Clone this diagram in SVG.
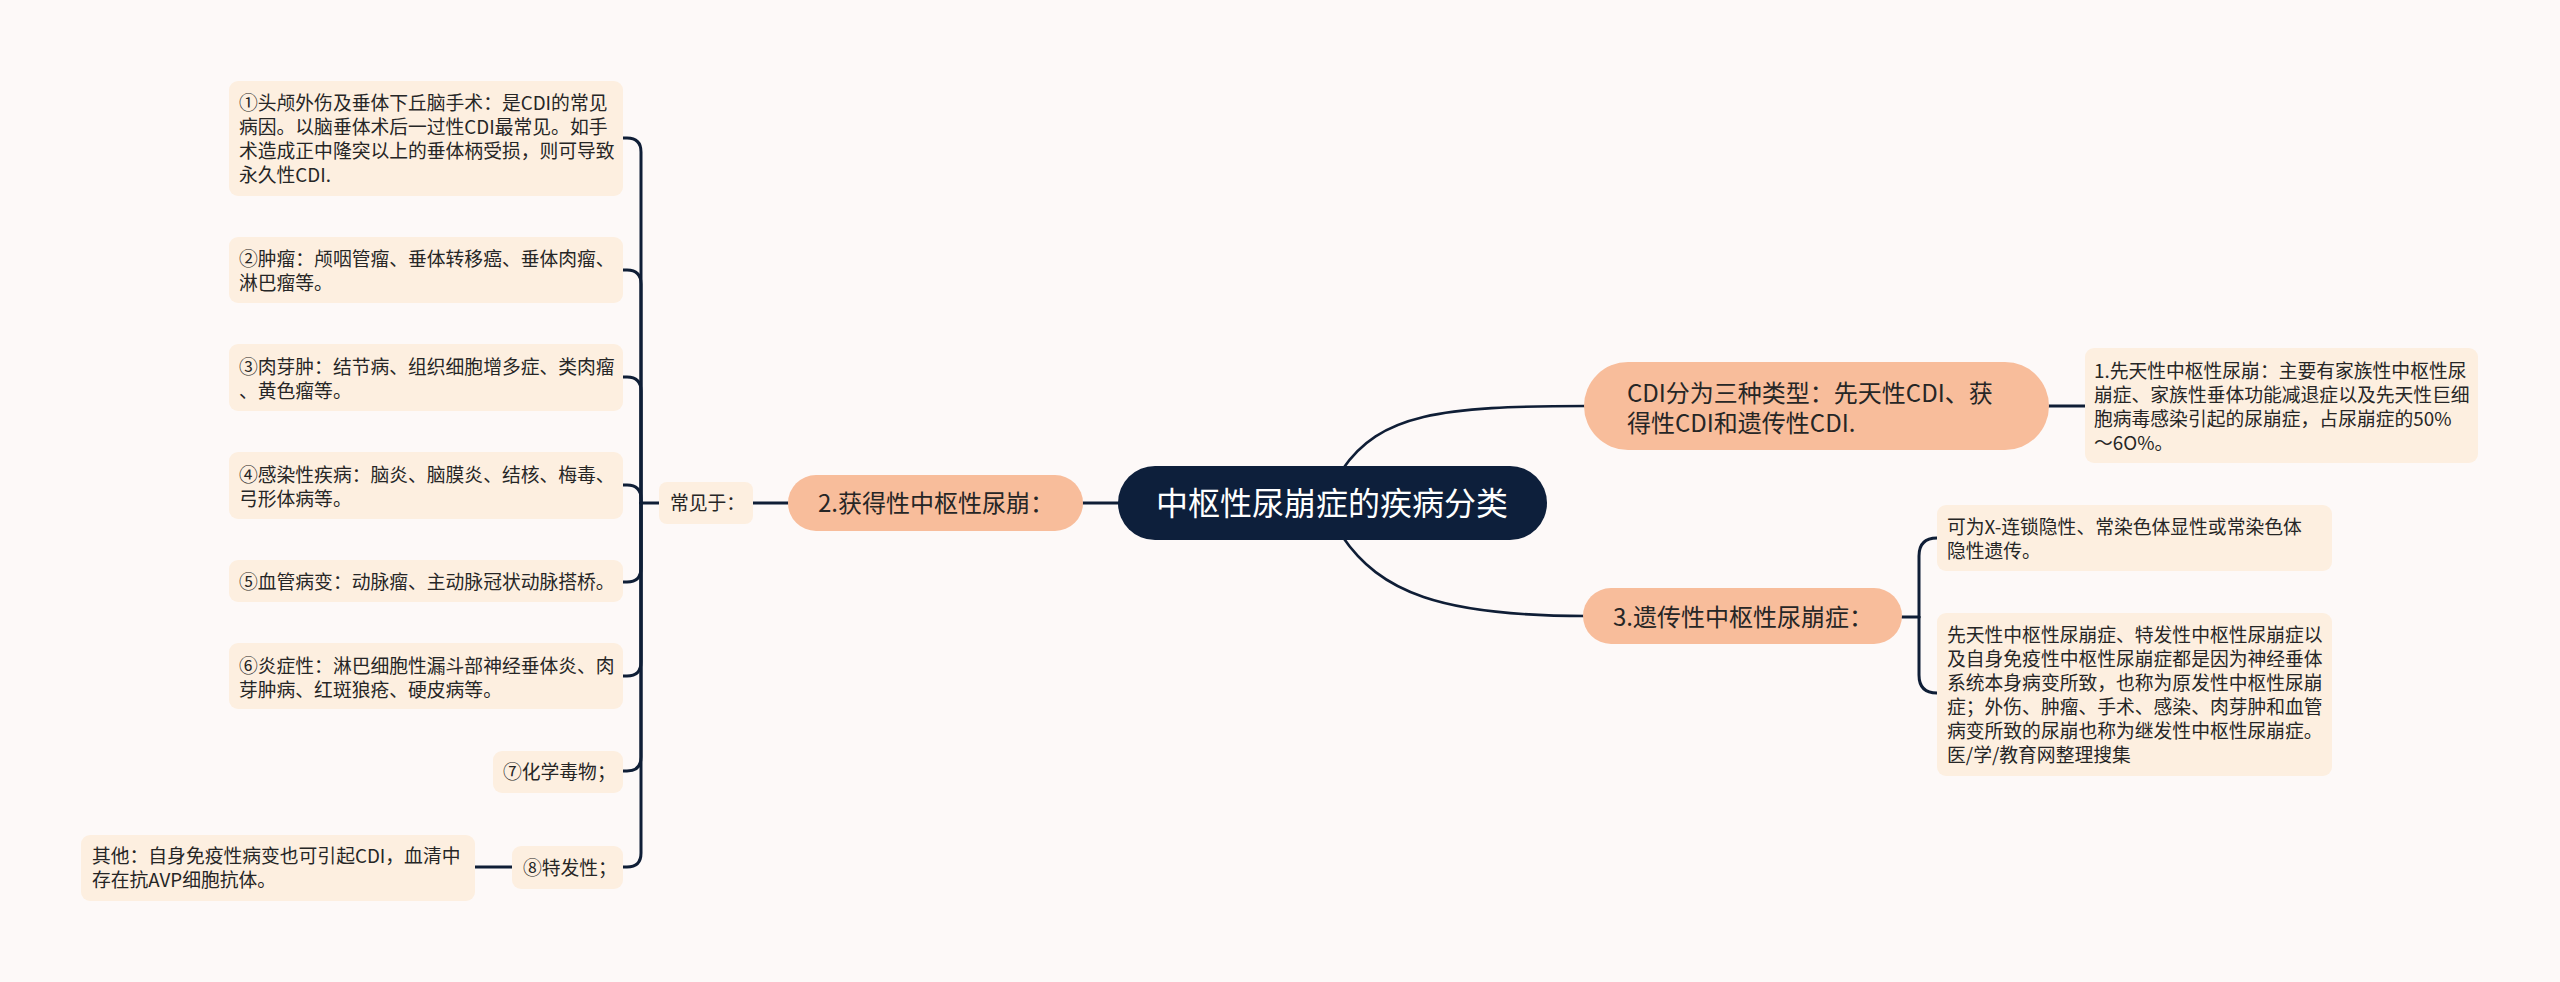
<svg xmlns="http://www.w3.org/2000/svg" width="2560" height="982" viewBox="0 0 2560 982">
<style>
text{font-family:"Noto Sans CJK SC","Noto Sans",sans-serif;fill:#262626}
.leaf{fill:#fdefe0}
.main{fill:#f8bd9b}
.t19{font-size:18.8px}
.t24{font-size:24px}
.t32{font-size:32px;fill:#ffffff}
.ln{fill:none;stroke:#0f1e36;stroke-width:3;stroke-linecap:round}
.cv{fill:none;stroke:#0f1e36;stroke-width:2.6}
</style>
<rect width="2560" height="982" fill="#fdf9f8"/>
<g id="connectors">
<path class="ln" d="M1083 503 H1120"/>
<path class="cv" d="M1342 470 C1380 414 1440 406 1586 406"/>
<path class="cv" d="M1342 536 C1380 592 1440 616 1586 616"/>
<path class="ln" d="M2049 406 H2085"/>
<path class="ln" d="M1902 617 H1919"/>
<path class="ln" d="M1919 617 V556 Q1919 538 1937 538"/>
<path class="ln" d="M1919 617 V675 Q1919 693 1937 693"/>
<path class="ln" d="M753 503 H788"/>
<path class="ln" d="M659 503 H641"/>
<path class="ln" d="M641 503 V152 Q641 138 627 138 H623"/>
<path class="ln" d="M641 503 V284 Q641 270 627 270 H623"/>
<path class="ln" d="M641 503 V391 Q641 377 627 377 H623"/>
<path class="ln" d="M641 503 V499 Q641 485 627 485 H623"/>
<path class="ln" d="M641 503 V568 Q641 582 627 582 H623"/>
<path class="ln" d="M641 503 V662 Q641 676 627 676 H623"/>
<path class="ln" d="M641 503 V757 Q641 771 627 771 H623"/>
<path class="ln" d="M641 503 V853 Q641 867 627 867 H623"/>
<path class="ln" d="M475 867 H512"/>
</g>
<g id="root">
<rect x="1118" y="466" width="429" height="74" rx="37" fill="#0d1f3b"/>
<text class="t32" x="1332" y="515" text-anchor="middle">中枢性尿崩症的疾病分类</text>
</g>
<g id="n-types">
<rect class="main" x="1584" y="362" width="465" height="88" rx="44"/>
<text class="t24" x="1627" y="402">CDI分为三种类型：先天性CDI、获</text>
<text class="t24" x="1627" y="432">得性CDI和遗传性CDI.</text>
</g>
<g id="n-congenital">
<rect class="leaf" x="2085" y="348" width="393" height="115" rx="9"/>
<text class="t19" x="2094" y="378">1.先天性中枢性尿崩：主要有家族性中枢性尿</text>
<text class="t19" x="2094" y="402">崩症、家族性垂体功能减退症以及先天性巨细</text>
<text class="t19" x="2094" y="426">胞病毒感染引起的尿崩症，占尿崩症的50%</text>
<text class="t19" x="2094" y="450">～6O%。</text>
</g>
<g id="n-hereditary">
<rect class="main" x="1583" y="588" width="319" height="56" rx="28"/>
<text class="t24" x="1613" y="626">3.遗传性中枢性尿崩症：</text>
</g>
<g id="n-h1">
<rect class="leaf" x="1937" y="505" width="395" height="66" rx="9"/>
<text class="t19" x="1947" y="534">可为X-连锁隐性、常染色体显性或常染色体</text>
<text class="t19" x="1947" y="558">隐性遗传。</text>
</g>
<g id="n-h2">
<rect class="leaf" x="1937" y="613" width="395" height="163" rx="9"/>
<text class="t19" x="1947" y="642">先天性中枢性尿崩症、特发性中枢性尿崩症以</text>
<text class="t19" x="1947" y="666">及自身免疫性中枢性尿崩症都是因为神经垂体</text>
<text class="t19" x="1947" y="690">系统本身病变所致，也称为原发性中枢性尿崩</text>
<text class="t19" x="1947" y="714">症；外伤、肿瘤、手术、感染、肉芽肿和血管</text>
<text class="t19" x="1947" y="738">病变所致的尿崩也称为继发性中枢性尿崩症。</text>
<text class="t19" x="1947" y="762">医/学/教育网整理搜集</text>
</g>
<g id="n-acquired">
<rect class="main" x="788" y="475" width="295" height="56" rx="28"/>
<text class="t24" x="818" y="512">2.获得性中枢性尿崩：</text>
</g>
<g id="n-common">
<rect class="leaf" x="659" y="482" width="94" height="42" rx="8"/>
<text class="t19" x="670" y="510">常见于：</text>
</g>
<g id="n-c1">
<rect class="leaf" x="229" y="81" width="394" height="115" rx="9"/>
<text class="t19" x="239" y="110">①头颅外伤及垂体下丘脑手术：是CDI的常见</text>
<text class="t19" x="239" y="134">病因。以脑垂体术后一过性CDI最常见。如手</text>
<text class="t19" x="239" y="158">术造成正中隆突以上的垂体柄受损，则可导致</text>
<text class="t19" x="239" y="182">永久性CDI.</text>
</g>
<g id="n-c2">
<rect class="leaf" x="229" y="237" width="394" height="66" rx="9"/>
<text class="t19" x="239" y="266">②肿瘤：颅咽管瘤、垂体转移癌、垂体肉瘤、</text>
<text class="t19" x="239" y="290">淋巴瘤等。</text>
</g>
<g id="n-c3">
<rect class="leaf" x="229" y="344" width="394" height="67" rx="9"/>
<text class="t19" x="239" y="374">③肉芽肿：结节病、组织细胞增多症、类肉瘤</text>
<text class="t19" x="239" y="398">、黄色瘤等。</text>
</g>
<g id="n-c4">
<rect class="leaf" x="229" y="452" width="394" height="67" rx="9"/>
<text class="t19" x="239" y="482">④感染性疾病：脑炎、脑膜炎、结核、梅毒、</text>
<text class="t19" x="239" y="506">弓形体病等。</text>
</g>
<g id="n-c5">
<rect class="leaf" x="229" y="560" width="394" height="42" rx="9"/>
<text class="t19" x="239" y="589">⑤血管病变：动脉瘤、主动脉冠状动脉搭桥。</text>
</g>
<g id="n-c6">
<rect class="leaf" x="229" y="643" width="394" height="66" rx="9"/>
<text class="t19" x="239" y="673">⑥炎症性：淋巴细胞性漏斗部神经垂体炎、肉</text>
<text class="t19" x="239" y="697">芽肿病、红斑狼疮、硬皮病等。</text>
</g>
<g id="n-c7">
<rect class="leaf" x="493" y="751" width="130" height="42" rx="9"/>
<text class="t19" x="503" y="779">⑦化学毒物；</text>
</g>
<g id="n-c8">
<rect class="leaf" x="512" y="846" width="111" height="43" rx="9"/>
<text class="t19" x="523" y="875">⑧特发性；</text>
</g>
<g id="n-other">
<rect class="leaf" x="81" y="835" width="394" height="66" rx="9"/>
<text class="t19" x="92" y="863">其他：自身免疫性病变也可引起CDI，血清中</text>
<text class="t19" x="92" y="887">存在抗AVP细胞抗体。</text>
</g>
</svg>
